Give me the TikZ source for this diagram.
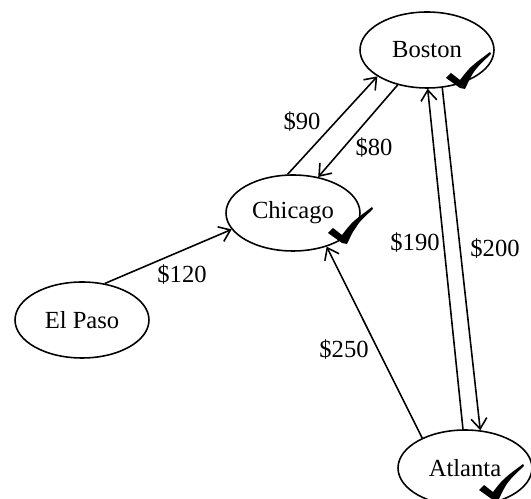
\documentclass[tikz,border=0pt]{standalone}
\usepackage{fontspec}
\setmainfont{Liberation Serif}
\usetikzlibrary{arrows.meta, shapes.geometric, positioning}

\begin{document}
\begin{tikzpicture}[
    x=0.02cm, y=-0.02cm,
    city/.style={
        ellipse,
        draw=black,
        line width=0.9pt,
        minimum width=2.68cm,
        minimum height=1.52cm,
        inner sep=0pt,
        font=\fontsize{14}{16}\selectfont
    },
    cost/.style={
        font=\fontsize{14}{16}\selectfont,
        inner sep=1pt
    },
    route/.style={
        -{Straight Barb[length=6pt, width=9pt, line width=0.9pt]},
        line width=0.9pt
    },
    tick/.pic={
        \fill (0,0) -- (-14,-10) -- (-9,-15) -- (0,-8)
            .. controls (10,-21) .. (30,-36) -- (31,-34)
            .. controls (14,-18) .. (5,1) -- cycle;
    }
]
\useasboundingbox (0,0) rectangle (531,499);

% Cities
\node[city] (bos) at (427,50) {Boston};
\node[city] (chi) at (293,213) {Chicago};
\node[city] (elp) at (82,320) {El Paso};
\node[city] (atl) at (465,468) {Atlanta};

% Visited marks
\pic at (460,88) {tick};
\pic at (342,243) {tick};
\pic at (493,500) {tick};

% Routes
\draw[route] (elp.58) -- (chi.195);
\draw[route] (chi.98) -- (bos.208);
\draw[route] (bos.230) -- (chi.55);
\draw[route] (bos.292) -- (atl.68);
\draw[route] (atl.93) -- (bos.271);
\draw[route] (atl.145) -- (chi.315);

% Costs
\node[cost] (c120) at (182,275) {\$120};
\node[cost] (c90) at (302,122) {\$90};
\node[cost] (c80) at (374,148) {\$80};
\node[cost] (c190) at (415,243) {\$190};
\node[cost] (c200) at (495,249) {\$200};
\node[cost] (c250) at (344,350) {\$250};

\end{tikzpicture}
\end{document}
